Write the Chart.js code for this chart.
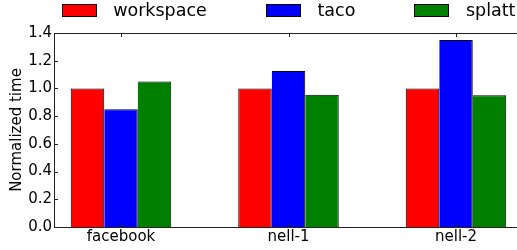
<!DOCTYPE html>
<html>
<head>
<meta charset="utf-8">
<script src="https://cdn.jsdelivr.net/npm/chart.js@4"></script>
<style>
  html, body { margin: 0; padding: 0; background: #fff; overflow: hidden; }
  #wrap { width: 517px; height: 250px; overflow: hidden; }
  canvas { display: block; }
</style>
</head>
<body>
<div id="wrap"><canvas id="chart" width="524" height="250" style="width:524px;height:250px"></canvas></div>
<script>
// --- data ---
const categories = ["facebook", "nell-1", "nell-2"];
const workspace = [1.0, 1.0, 1.0];
const taco = [0.85, 1.125, 1.35];
const splatt = [1.05, 0.955, 0.95];
const yTicks = [0.0, 0.2, 0.4, 0.6, 0.8, 1.0, 1.2, 1.4];

const FONT = '"DejaVu Sans", "Bitstream Vera Sans", sans-serif';
const toPoints = (arr) => arr.map((v, i) => ({ x: i, y: v }));

// bars touch each other, so only the first of a group draws its left edge
const series = [
	{ label: "workspace", data: workspace, color: "#ff0000", first: true },
	{ label: "taco", data: taco, color: "#0000ff" },
	{ label: "splatt", data: splatt, color: "#008000" }
];

// matplotlib-like box with inward ticks
const framePlugin = {
	id: "frame",
	afterDatasetsDraw(chart) {
		const { ctx, chartArea: a, scales } = chart;
		ctx.save();
		ctx.strokeStyle = "#222";
		ctx.lineWidth = 1;
		ctx.beginPath();
		ctx.rect(Math.round(a.left) + 0.5, Math.round(a.top) + 0.5, Math.round(a.right - a.left), Math.round(a.bottom - a.top));
		ctx.stroke();
		ctx.beginPath();
		scales.y.ticks.forEach(t => {
			const y = Math.round(scales.y.getPixelForValue(t.value)) + 0.5;
			ctx.moveTo(a.left, y); ctx.lineTo(a.left + 4, y);
			ctx.moveTo(a.right, y); ctx.lineTo(a.right - 4, y);
		});
		scales.x.ticks.forEach(t => {
			const x = Math.round(scales.x.getPixelForValue(t.value)) + 0.5;
			ctx.moveTo(x, a.bottom); ctx.lineTo(x, a.bottom - 4);
			ctx.moveTo(x, a.top); ctx.lineTo(x, a.top + 4);
		});
		ctx.stroke();
		ctx.restore();
	}
};

// legend above the axes, laid out in columns like matplotlib
const legendPlugin = {
	id: "topLegend",
	afterDraw(chart) {
		const { ctx, chartArea: a } = chart;
		const handle = 35, gap = 16.6, colSpace = 59;
		ctx.save();
		ctx.font = `17.5px ${FONT}`;
		const widths = series.map(s => ctx.measureText(s.label).width);
		const total = widths.reduce((s, w) => s + handle + gap + w, 0) + colSpace * (series.length - 1);
		let x = (a.left + a.right) / 2 - total / 2;
		series.forEach((s, i) => {
			ctx.fillStyle = s.color;
			ctx.fillRect(Math.round(x), 4, handle, 13);
			ctx.strokeStyle = "#000";
			ctx.lineWidth = 1;
			ctx.strokeRect(Math.round(x) + 0.5, 4.5, handle - 1, 12);
			ctx.fillStyle = "#000";
			ctx.textBaseline = "middle";
			ctx.textAlign = "left";
			ctx.fillText(s.label, x + handle + gap, 11);
			x += handle + gap + widths[i] + colSpace;
		});
		ctx.restore();
	}
};

new Chart(document.getElementById("chart"), {
	type: "bar",
	data: {
		datasets: series.map(s => ({
			label: s.label,
			data: toPoints(s.data),
			backgroundColor: s.color,
			borderColor: "#000",
			borderWidth: s.first ? { top: 1, right: 1, bottom: 0, left: 1 } : { top: 1, right: 1, bottom: 0, left: 0 },
			borderSkipped: false,
			barPercentage: 1.0,
			categoryPercentage: 0.6
		}))
	},
	options: {
		responsive: false,
		animation: false,
		layout: { padding: { top: 33, right: 1, left: 0, bottom: 0 } },
		plugins: { legend: { display: false }, tooltip: { enabled: false } },
		scales: {
			x: {
				type: "linear",
				offset: false,
				min: -0.4,
				max: 2.4,
				grid: { display: false, drawTicks: false, offset: false },
				border: { display: false },
				afterBuildTicks: (scale) => { scale.ticks = categories.map((c, i) => ({ value: i })); },
				afterFit: (scale) => { scale.height = 23; },
				ticks: {
					color: "#000",
					padding: 1,
					maxRotation: 0,
					autoSkip: false,
					font: { family: FONT, size: 15 },
					callback: (v) => categories[v] ?? ""
				}
			},
			y: {
				min: 0,
				max: 1.4,
				grid: { display: false, drawTicks: false },
				border: { display: false },
				afterBuildTicks: (scale) => { scale.ticks = yTicks.map(v => ({ value: v })); },
				afterFit: (scale) => { scale.width = 54; },
				ticks: {
					color: "#000",
					padding: 2,
					font: { family: FONT, size: 15 },
					callback: (v) => Number(v).toFixed(1)
				},
				title: {
					display: true,
					text: "Normalized time",
					color: "#000",
					padding: { top: 8.5, bottom: 0 },
					font: { family: FONT, size: 15 }
				}
			}
		}
	},
	plugins: [framePlugin, legendPlugin]
});
</script>
</body>
</html>
